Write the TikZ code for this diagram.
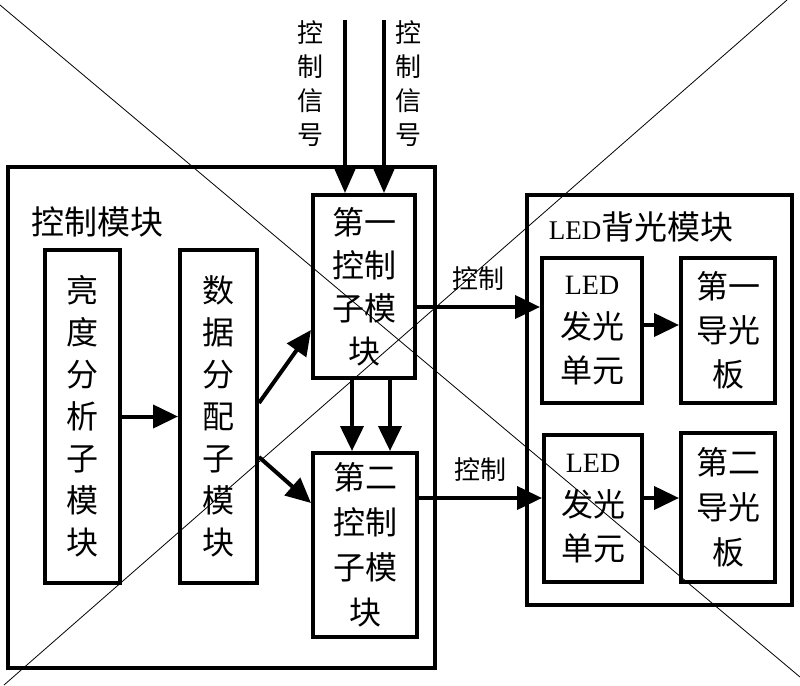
\documentclass[tikz,border=0pt]{standalone}
\usepackage{fontspec}
\setmainfont{Liberation Serif}
\newfontfamily\cjk{Noto Sans CJK SC}
\usetikzlibrary{arrows.meta,calc}
\begin{document}
\begin{tikzpicture}[x=1pt,y=-1pt,
  blk/.style={draw, line width=4pt, inner sep=0pt, align=center},
  mod/.style={draw, line width=3.5pt, inner sep=0pt},
  arr/.style={line width=4pt, -{Triangle[length=25pt,width=23pt]}},
  sig/.style={line width=3.3pt, -{Triangle[length=26pt,width=22pt]}},
  diag/.style={line width=0.8pt},
  bx/.style={font=\cjk\fontsize{32}{#1}\selectfont},
  lbl/.style={font=\cjk\fontsize{26}{34}\selectfont, align=center, inner sep=0pt}
]
\useasboundingbox (0,0) rectangle (800,685);

% module containers
\node[mod, minimum width=427pt, minimum height=501pt] (ctrl) at (221.5,417.5) {};
\node[mod, minimum width=265pt, minimum height=410pt] (ledm) at (659.5,400) {};
\node[font=\cjk\fontsize{33}{40}\selectfont, inner sep=0pt] (ctrlt) at (97,222) {控制模块};
\node[font=\cjk\fontsize{33}{40}\selectfont, inner sep=0pt] (ledt) at (641,227) {{\fontsize{27}{30}\selectfont\rmfamily LED}背光模块};

% blocks
\node[blk, bx=42pt, minimum width=75pt, minimum height=333pt] (lum) at (82.5,416.5) {亮\\度\\分\\析\\子\\模\\块};
\node[blk, bx=42pt, minimum width=77pt, minimum height=333pt] (dist) at (218.5,416.5) {数\\据\\分\\配\\子\\模\\块};
\node[blk, bx=43pt, minimum width=102pt, minimum height=183pt] (c1) at (364,286.5) {第一\\控制\\子模\\块};
\node[blk, bx=45pt, minimum width=104pt, minimum height=184pt] (c2) at (365,545) {第二\\控制\\子模\\块};
\node[blk, bx=44pt, minimum width=100pt, minimum height=145pt] (led1) at (592,330.5) {{\fontsize{28}{44}\selectfont\rmfamily LED}\\发光\\单元};
\node[blk, bx=44pt, minimum width=94pt, minimum height=145pt] (lg1) at (728,330.5) {第一\\导光\\板};
\node[blk, bx=44pt, minimum width=98pt, minimum height=147pt] (led2) at (593,508.5) {{\fontsize{28}{44}\selectfont\rmfamily LED}\\发光\\单元};
\node[blk, bx=45pt, minimum width=94pt, minimum height=149pt] (lg2) at (728,507.5) {第二\\导光\\板};

% control signal inputs
\coordinate (s1) at (345,20);
\coordinate (s2) at (384,20);
\node[lbl] (t1) at (310,84) {控\\制\\信\\号};
\node[lbl] (t2) at (408,84) {控\\制\\信\\号};
\draw[sig] (s1) -- (s1 |- c1.north);
\draw[sig] (s2) -- (s2 |- c1.north);

% connector anchor points
\coordinate (d1) at ($(dist.east)+(0,-13.5)$);
\coordinate (e1) at ($(c1.west)+(0,43.5)$);
\coordinate (d2) at ($(dist.east)+(0,40.5)$);
\coordinate (e2) at ($(c2.west)+(0,-42)$);
\coordinate (v1) at ($(c1.south)+(-12,0)$);
\coordinate (v2) at ($(c1.south)+(26,0)$);
\coordinate (h1) at ($(c1.east)+(0,20.5)$);
\coordinate (h2) at ($(c2.east)+(0,-47)$);
\coordinate (g1) at ($(led1.east)+(0,-5.5)$);
\coordinate (g2) at ($(led2.east)+(0,-10.5)$);

% connectors
\draw[arr] (lum.east) -- (dist.west);
\draw[arr] (d1) -- (e1);
\draw[arr] (d2) -- (e2);
\draw[arr] (v1) -- (v1 |- c2.north);
\draw[arr] (v2) -- (v2 |- c2.north);
\draw[arr] (h1) -- (h1 -| led1.west) node[lbl, pos=0.5, above=14pt] (k1) {控制};
\draw[arr] (h2) -- (h2 -| led2.west) node[lbl, pos=0.5, above=14pt] (k2) {控制};
\draw[arr] (g1) -- (g1 -| lg1.west);
\draw[arr] (g2) -- (g2 -| lg2.west);

% crossing lines
\draw[diag] (0,5) -- (800,677);
\draw[diag] (4,685) -- (787,0);
\end{tikzpicture}
\end{document}
